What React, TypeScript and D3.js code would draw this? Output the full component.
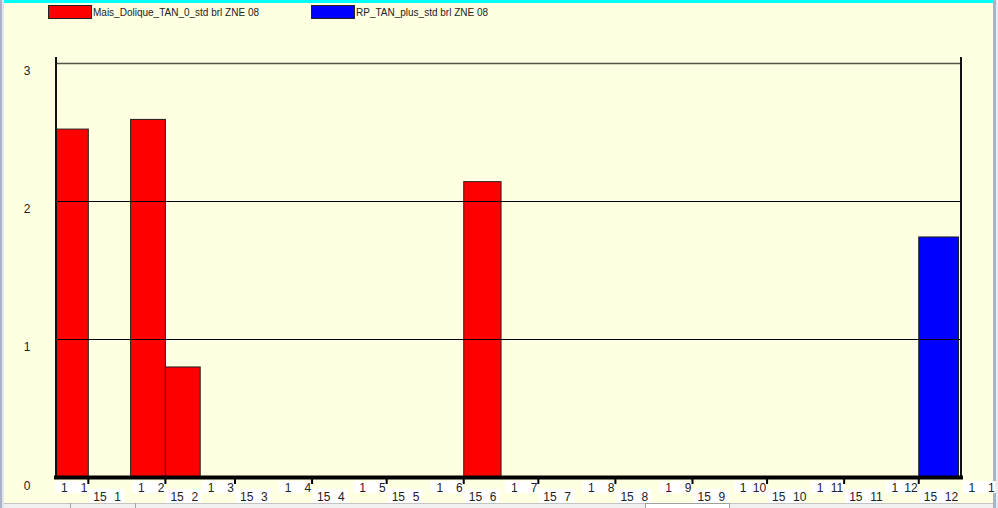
import React from 'react';
import * as d3 from 'd3';

// series / legend
const seriesNames = ['Mais_Dolique_TAN_0_std brl ZNE 08', 'RP_TAN_plus_std brl ZNE 08'];
const seriesColors = ['#ff0000', '#0000ff'];

// bars: period start, period end, value, series index
const barStart = ['2022-12-19', '2023-01-18', '2023-02-01', '2023-06-01', '2023-12-01'];
const barEnd = ['2023-01-01', '2023-02-01', '2023-02-15', '2023-06-16', '2023-12-17'];
const barValue = [2.52, 2.59, 0.8, 2.14, 1.74];
const barSeries = [0, 0, 0, 0, 1];

// axes
const yTicks = [0, 1, 2, 3];
const xDomain = ['2022-12-19', '2023-12-18'];
const tickMonths = ['2023-01-01', '2023-02-01', '2023-03-01', '2023-04-01', '2023-05-01', '2023-06-01',
  '2023-07-01', '2023-08-01', '2023-09-01', '2023-10-01', '2023-11-01', '2023-12-01', '2024-01-01'];

const W = 998;
const H = 508;
const FONT = '"Liberation Sans", Arial, sans-serif';
const parse = d3.timeParse('%Y-%m-%d');

export default function App() {
  const left = 56;
  const right = 961;
  const x = d3.scaleTime()
    .domain(xDomain.map(d => parse(d) as Date))
    .range([left, right]);
  const y = d3.scaleLinear().domain([0, 3]).range([477.6, 62.7]);
  const base = y(0);
  const ticks = tickMonths.map(d => parse(d) as Date);

  return (
    <svg width={W} height={H} style={{ position: 'absolute', left: 0, top: 0, display: 'block' }}>
      <rect x={0} y={0} width={W} height={H} fill="#ffffe1" />
      {/* window chrome */}
      <rect x={4} y={0} width={990} height={3} fill="#00ffff" />
      <rect x={0} y={0} width={2} height={H} fill="#aab4c6" />
      <rect x={2} y={0} width={2} height={H} fill="#dfe6f0" />
      <rect x={993} y={0} width={3} height={H} fill="#a9b5c5" />
      <rect x={996} y={0} width={2} height={H} fill="#e8ecf2" />
      <rect x={4} y={503} width={989} height={5} fill="#f0f0f0" />
      <line x1={4} x2={993} y1={503.5} y2={503.5} stroke="#c4c4c4" />
      <rect x={645.5} y={503.5} width={84} height={6} fill="#ffffff" stroke="#a0a0a0" />
      <line x1={70.5} x2={70.5} y1={503} y2={508} stroke="#a0a0a0" />
      <line x1={135.5} x2={135.5} y1={503} y2={508} stroke="#a0a0a0" />

      {/* legend */}
      {seriesNames.map((name, i) => {
        const lx = i === 0 ? 48 : 311;
        return (
          <g key={name}>
            <rect x={lx + 0.5} y={5.5} width={43} height={13} fill={seriesColors[i]} stroke="#222" />
            <text x={lx + 45} y={15.5} fontFamily={FONT} fontSize={10} fill="#222">{name}</text>
          </g>
        );
      })}

      {/* bars */}
      {barValue.map((v, i) => {
        const x0 = x(parse(barStart[i]) as Date);
        const x1 = x(parse(barEnd[i]) as Date);
        return (
          <rect key={i} x={x0} y={y(v)} width={x1 - x0} height={base - y(v)}
            fill={seriesColors[barSeries[i]]} stroke="#222" strokeWidth={1} />
        );
      })}

      {/* grid, drawn over the bars */}
      {yTicks.filter(t => t > 0).map(t => (
        <line key={t} x1={left} x2={right} y1={Math.round(y(t)) + 0.5} y2={Math.round(y(t)) + 0.5}
          stroke={t === 3 ? '#55554a' : '#000'} strokeWidth={t === 3 ? 1.6 : 1} />
      ))}
      {yTicks.map(t => (
        <text key={t} x={27} y={y(t) + 12} textAnchor="middle" fontFamily={FONT} fontSize={12} fill="#222">{t}</text>
      ))}

      {/* axes frame */}
      <line x1={left} x2={left} y1={57} y2={base} stroke="#111" strokeWidth={2} />
      <line x1={right} x2={right} y1={57} y2={base} stroke="#111" strokeWidth={2} />
      <line x1={left - 2} x2={right + 2} y1={base} y2={base} stroke="#000" strokeWidth={4} />

      {/* x labels */}
      {ticks.map((t, i) => {
        const tx = x(t);
        const month = String(t.getMonth() + 1);
        const inside = tx <= right;
        return (
          <g key={i} fontFamily={FONT} fontSize={12} fill="#222">
            <rect x={tx - 33} y={481} width={33} height={12} fill="#ffffff" />
            <text x={tx - 24} y={492} textAnchor="middle">1</text>
            <text x={tx - 1} y={492} textAnchor="end">{month}</text>
            {inside && (
              <>
                <line x1={tx} x2={tx} y1={base} y2={484} stroke="#000" strokeWidth={2} />
                <rect x={tx + 1} y={489} width={35} height={14} fill="#ffffff" />
                <text x={tx + 5} y={501}>15</text>
                <text x={tx + 26} y={501}>{month}</text>
              </>
            )}
          </g>
        );
      })}
    </svg>
  );
}
